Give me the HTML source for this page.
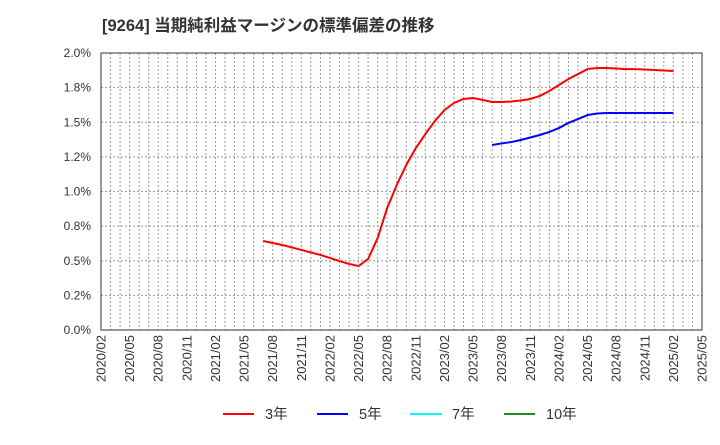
<!DOCTYPE html>
<html><head><meta charset="utf-8"><style>
body{margin:0;background:#fff}
svg text{font-family:"Liberation Sans","Noto Sans CJK JP",sans-serif;fill:#333}
</style></head><body>
<svg id="c" width="720" height="440" xmlns="http://www.w3.org/2000/svg">
<text x="102" y="31" font-size="16.5" font-weight="bold">[9264]  当期純利益マージンの標準偏差の推移</text>
<g id="grid"></g><g id="axes"></g><g id="series"></g>
<g>
<g><line x1="223" y1="414" x2="254" y2="414" stroke="#ff0000" stroke-width="2"/><text x="265" y="419" font-size="14.5">3年</text></g>
<g><line x1="317" y1="414" x2="348" y2="414" stroke="#0000ff" stroke-width="2"/><text x="359" y="419" font-size="14.5">5年</text></g>
<g><line x1="410" y1="414" x2="442" y2="414" stroke="#00ffff" stroke-width="2"/><text x="452" y="419" font-size="14.5">7年</text></g>
<g><line x1="504" y1="414" x2="535" y2="414" stroke="#228b22" stroke-width="2"/><text x="546" y="419" font-size="14.5">10年</text></g>
</g>
</svg>
<script>
const yTicks=[0,0.25,0.5,0.75,1.0,1.25,1.5,1.75,2.0];
const yTickLabels=["0.0%","0.2%","0.5%","0.8%","1.0%","1.2%","1.5%","1.8%","2.0%"];
const xStart="2020/02";
const red3Start="2021/07";
const red3=[0.643,0.628,0.614,0.596,0.578,0.560,0.542,0.520,0.498,0.477,0.462,0.513,0.664,0.881,1.047,1.191,1.314,1.415,1.509,1.588,1.639,1.668,1.675,1.661,1.646,1.646,1.650,1.657,1.668,1.690,1.726,1.769,1.812,1.848,1.884,1.892,1.892,1.888,1.884,1.884,1.881,1.877,1.874,1.870];
const blue5Start="2023/07";
const blue5=[1.336,1.347,1.357,1.372,1.390,1.408,1.430,1.458,1.495,1.523,1.552,1.563,1.567,1.567,1.567,1.567,1.567,1.567,1.567,1.567];
const L=101,R=702,T=53,B=330,NM=63;
function mIdx(s){const[a,b]=s.split('/').map(Number);const[c,d]=xStart.split('/').map(Number);return (a-c)*12+(b-d);}
const xs=i=>L+i*(R-L)/NM;
const ys=v=>B-v/2.0*(B-T);
const NS="http://www.w3.org/2000/svg";
function mk(p,tag,at){const e=document.createElementNS(NS,tag);for(const k in at)e.setAttribute(k,at[k]);p.appendChild(e);return e;}
const g=document.getElementById('grid'),ax=document.getElementById('axes'),se=document.getElementById('series');
for(let i=1;i<NM;i++){const l=mk(g,'line',{x1:xs(i),x2:xs(i),y1:T,y2:B,stroke:'#999','stroke-dasharray':'2,2'});

}
yTicks.forEach((v,k)=>{if(k>0&&k<yTicks.length-1){const l=mk(g,'line',{x1:L,x2:R,y1:ys(v),y2:ys(v),stroke:'#999','stroke-dasharray':'2,2'});

}
const t=mk(ax,'text',{x:91,y:ys(v)+4,'font-size':12,'text-anchor':'end'});t.textContent=yTickLabels[k];

});
const fr=mk(ax,'rect',{x:L,y:T,width:R-L,height:B-T,fill:'none',stroke:'#333'});


for(let i=0;i<=NM;i+=3){const[y0,m0]=xStart.split('/').map(Number);const mm=m0-1+i;const lab=(y0+Math.floor(mm/12))+'/'+String(mm%12+1).padStart(2,'0');
const x=xs(i)+4.5;const t=mk(ax,'text',{x:x,y:335,'font-size':13,'text-anchor':'end',transform:`rotate(-90 ${x} 335)`});t.textContent=lab;

}
function line(data,start,color,name){const s=mIdx(start);const p=mk(se,'polyline',{points:data.map((v,i)=>xs(s+i)+','+ys(v)).join(' '),fill:'none',stroke:color,'stroke-width':2,'stroke-linejoin':'round'});

}
line(red3,red3Start,'#ff0000','series-3y');
line(blue5,blue5Start,'#0000ff','series-5y');
</script>
</body></html>
